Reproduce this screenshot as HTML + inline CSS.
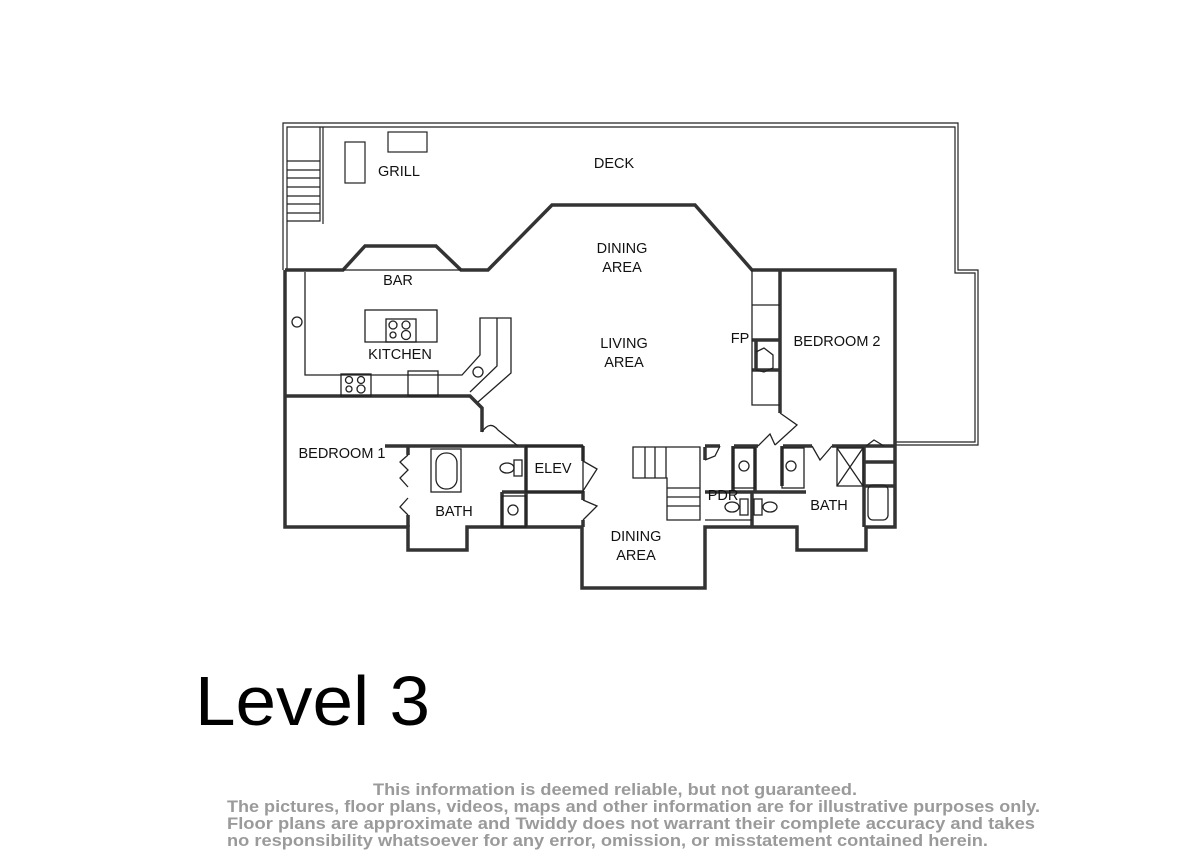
<!DOCTYPE html>
<html><head><meta charset="utf-8"><style>
html,body{margin:0;padding:0;background:#fff}
svg{display:block}
text{font-family:"Liberation Sans",sans-serif}
</style></head><body>
<svg width="1200" height="850" viewBox="0 0 1200 850" xmlns="http://www.w3.org/2000/svg">
<g fill="none" stroke="#222" stroke-width="1.2">
<path d="M283,270 V123 H958 V270 H978 V445 H895"/>
<path d="M287,270 V127 H955 V273 H975 V442 H895"/>
<path d="M320,127 V221 H287"/><path d="M323,127 V224"/>
<path d="M287,161 H320 M287,170 H320 M287,178 H320 M287,187 H320 M287,196 H320 M287,204 H320 M287,213 H320"/>
<rect x="345" y="142" width="20" height="41"/>
<rect x="388" y="132" width="39" height="20"/>
</g>
<g fill="none" stroke="#333" stroke-width="3.5" stroke-linejoin="miter">
<path d="M285,270 H343 L365,246 H436 L461,270 H488 L552,205 H695 L752,270 H895 V445"/>
<path d="M285,270 V527 H408 V550 H467 V527 H582 V588 H705 V527 H797 V550 H866 V527 H895 V445"/>
<path d="M285,396 H470 L482,408 V432"/>
<path d="M780,270 V413"/>
<path d="M752,340 H780 M752,370 H780 M756,340 V370"/>
<path d="M385,446 H583 M583,446 V461 M583,491 V500 M583,520 V527"/>
<path d="M408,446 V455 M408,515 V527"/>
<path d="M526,446 V527 M502,492 H583 M502,492 V527"/>
<path d="M705,447 V460 M705,446 H720 M734,446 H758 M783,446 H812 M832,446 H895"/>
<path d="M733,446 V492 M755,446 V492 M782,446 V486 M864,446 V527 M864,486 H895 M864,462 H895"/>
<path d="M705,492 H806 M752,492 V527"/>
</g>
<g fill="none" stroke="#222" stroke-width="1.3">
<path d="M343,270 H461"/>
<path d="M305,272 V375 H462 L480,355 V318 H511 V373 L478,402"/>
<path d="M497,318 V366 L470,392"/>
<rect x="365" y="310" width="72" height="32"/>
<rect x="386" y="319" width="30" height="23"/>
<circle cx="393" cy="325" r="4"/><circle cx="406" cy="325" r="4"/><circle cx="393" cy="335" r="3"/><circle cx="406" cy="335" r="4.5"/>
<rect x="341" y="374" width="30" height="22"/>
<circle cx="349" cy="380" r="3.5"/><circle cx="361" cy="380" r="3.5"/><circle cx="349" cy="389" r="3"/><circle cx="361" cy="389" r="4"/>
<rect x="408" y="371" width="30" height="25"/>
<circle cx="478" cy="372" r="5"/><circle cx="297" cy="322" r="5"/>
<path d="M752,270 V405 H780 M752,305 H780 M752,340 V370 M756,352 L764,348 L773,355 V368 L764,372 L756,370"/>
<path d="M482,432 Q490,420 498,430 L518,446 M780,413 L797,425 L775,445 M758,446 L770,434 L775,445 M812,446 L820,460 L832,446"/>
<path d="M408,455 L400,462 L408,470 L400,478 L408,487 M408,498 L400,507 L408,515"/>
<path d="M583,461 L597,469 L583,491 M583,500 L597,506 L583,520 M705,460 L715,456 L720,446 M866,446 L874,440 L884,446"/>
<rect x="431" y="449" width="30" height="43"/>
<rect x="436" y="453" width="21" height="36" rx="10"/>
<ellipse cx="507" cy="468" rx="7" ry="5"/><rect x="514" y="460" width="8" height="16"/>
<rect x="502" y="496" width="24" height="31"/><circle cx="513" cy="510" r="5"/>
<rect x="526" y="446" width="57" height="46"/>
<path d="M633,447 H700 V520 H667 V478 H633 Z M645,447 V478 M655,447 V478 M666,447 V478 M667,488 H700 M667,497 H700 M667,506 H700"/>
<rect x="733" y="448" width="22" height="40"/><circle cx="744" cy="466" r="5"/>
<rect x="782" y="448" width="22" height="40"/><circle cx="791" cy="466" r="5"/>
<rect x="837" y="448" width="26" height="38"/><path d="M837,448 L863,486 M863,448 L837,486"/>
<ellipse cx="732" cy="507" rx="7" ry="5"/><rect x="740" y="499" width="8" height="16"/>
<ellipse cx="770" cy="507" rx="7" ry="5"/><rect x="754" y="499" width="8" height="16"/>
<rect x="868" y="485" width="20" height="35" rx="5"/>
<path d="M705,520 H752"/>
</g>
<g font-size="14.5" fill="#111" text-anchor="middle">
<text x="399" y="176">GRILL</text>
<text x="614" y="168">DECK</text>
<text x="622" y="253">DINING</text><text x="622" y="272">AREA</text>
<text x="398" y="285">BAR</text>
<text x="400" y="359">KITCHEN</text>
<text x="624" y="348">LIVING</text><text x="624" y="367">AREA</text>
<text x="740" y="343">FP</text>
<text x="837" y="346">BEDROOM 2</text>
<text x="342" y="458">BEDROOM 1</text>
<text x="454" y="516">BATH</text>
<text x="553" y="473">ELEV</text>
<text x="636" y="541">DINING</text><text x="636" y="560">AREA</text>
<text x="723" y="500">PDR</text>
<text x="829" y="510">BATH</text>
</g>
<text x="195" y="725" font-size="70" fill="#000" textLength="235" lengthAdjust="spacingAndGlyphs">Level 3</text>
<g font-size="17" fill="#9a9a9a" font-weight="bold">
<text x="373" y="795" textLength="484" lengthAdjust="spacingAndGlyphs">This information is deemed reliable, but not guaranteed.</text>
<text x="227" y="812" textLength="813" lengthAdjust="spacingAndGlyphs">The pictures, floor plans, videos, maps and other information are for illustrative purposes only.</text>
<text x="227" y="829" textLength="808" lengthAdjust="spacingAndGlyphs">Floor plans are approximate and Twiddy does not warrant their complete accuracy and takes</text>
<text x="227" y="846" textLength="761" lengthAdjust="spacingAndGlyphs">no responsibility whatsoever for any error, omission, or misstatement contained herein.</text>
</g>
</svg>
</body></html>
